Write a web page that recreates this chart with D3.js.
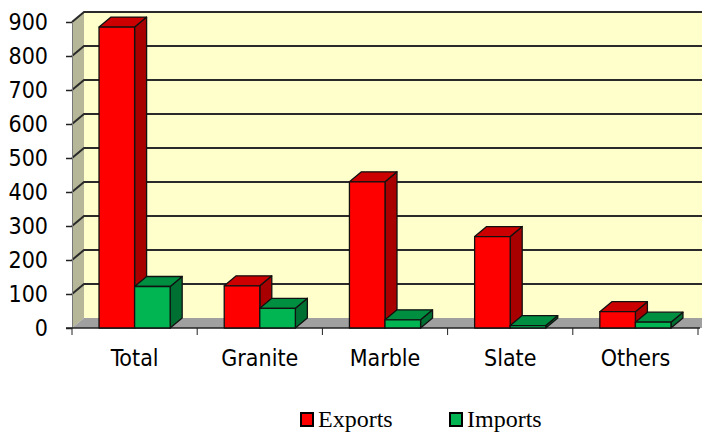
<!DOCTYPE html>
<html>
<head>
<meta charset="utf-8">
<script src="https://cdn.jsdelivr.net/npm/d3@7"></script>
<style>
  html, body { margin: 0; padding: 0; background: #ffffff; }
  svg { display: block; }
</style>
</head>
<body>
<svg id="chart" width="702" height="432"></svg>
<script>
// Stone trade by product type
const categories = ["Total", "Granite", "Marble", "Slate", "Others"];
const exportsValues = [885, 124, 430, 269, 48];
const importsValues = [122, 58, 24, 7, 17];
const seriesNames = ["Exports", "Imports"];
const yTicks = [0, 100, 200, 300, 400, 500, 600, 700, 800, 900];

const svg = d3.select("#chart");

// Front plane geometry and 3-D depth offset
const plotLeft = 72, plotRight = 698, plotBase = 328, plotTop = 22;
const dx = 12, dy = -10;

const x = d3.scaleBand().domain(categories).range([plotLeft, plotRight]).paddingInner(0).paddingOuter(0);
const xs = d3.scaleBand().domain(seriesNames).range([0, x.bandwidth()]).paddingInner(0).paddingOuter(0.76);
const y = d3.scaleLinear().domain([0, 900]).range([plotBase, plotTop]);

const poly = pts => "M" + pts.map(p => p.join(",")).join("L") + "Z";

// Back wall
svg.append("path")
  .attr("d", poly([[plotLeft + dx, y(900) + dy], [710, y(900) + dy], [710, plotBase + dy], [plotLeft + dx, plotBase + dy]]))
  .attr("fill", "#ffffcc");

// Left side wall
svg.append("path")
  .attr("d", poly([[plotLeft, y(900)], [plotLeft + dx, y(900) + dy], [plotLeft + dx, plotBase + dy], [plotLeft, plotBase]]))
  .attr("fill", "#b6b698");

// Floor
svg.append("path")
  .attr("d", poly([[plotLeft, plotBase], [plotLeft + dx, plotBase + dy], [710, plotBase + dy], [710, plotBase]]))
  .attr("fill", "#a0a0a0");

// Gridlines: across the back wall and diagonally over the side wall
const grid = svg.append("g").attr("stroke", "#2a2a2a").attr("stroke-width", 2).attr("fill", "none");
yTicks.filter(v => v > 0).forEach(v => {
  grid.append("path")
    .attr("d", `M${plotLeft},${y(v)}L${plotLeft + dx},${y(v) + dy}L710,${y(v) + dy}`);
});

// Value axis ticks and labels
const yAxis = d3.axisLeft(y).tickValues(yTicks).tickSize(6).tickPadding(18).tickSizeOuter(0);
const gy = svg.append("g").attr("transform", `translate(${plotLeft},0)`).call(yAxis);
gy.select(".domain").attr("stroke", "#777").attr("stroke-width", 1);
gy.selectAll(".tick line").attr("stroke", "#222").attr("stroke-width", 1.5);
gy.selectAll(".tick text")
  .attr("fill", "#000")
  .style("font-family", "'DejaVu Sans Condensed', 'DejaVu Sans', sans-serif")
  .style("font-size", "23px");

// Category axis along the front edge of the floor
const xAxis = d3.axisBottom(x).tickSize(0).tickPadding(22);
const gx = svg.append("g").attr("transform", `translate(0,${plotBase})`).call(xAxis);
gx.select(".domain").remove();
gx.selectAll(".tick text")
  .attr("fill", "#000")
  .style("font-family", "'DejaVu Sans Condensed', 'DejaVu Sans', sans-serif")
  .style("font-size", "23px");
svg.append("line")
  .attr("x1", plotLeft - 6).attr("x2", plotRight + 2).attr("y1", plotBase).attr("y2", plotBase)
  .attr("stroke", "#222").attr("stroke-width", 1.5);
const boundaries = categories.map(c => x(c)).concat([plotRight]);
svg.append("g").selectAll("line").data(boundaries).join("line")
  .attr("x1", d => d).attr("x2", d => d)
  .attr("y1", plotBase).attr("y2", plotBase + 7)
  .attr("stroke", "#222").attr("stroke-width", 1);

// 3-D columns
const palette = {
  Exports: { front: "#ff0000", top: "#cc0000", side: "#a80000" },
  Imports: { front: "#00b552", top: "#008f40", side: "#006f32" }
};
const rows = [];
categories.forEach((c, i) => {
  rows.push({ cat: c, series: "Exports", value: exportsValues[i] });
  rows.push({ cat: c, series: "Imports", value: importsValues[i] });
});

const bars = svg.append("g").selectAll("g").data(rows).join("g")
  .attr("stroke", "#111").attr("stroke-width", 1.3).attr("stroke-linejoin", "round");

bars.each(function (d) {
  const g = d3.select(this);
  const x0 = x(d.cat) + xs(d.series);
  const x1 = x0 + xs.bandwidth();
  const y0 = y(d.value);
  const col = palette[d.series];
  g.append("path")
    .attr("d", poly([[x1, y0], [x1 + dx, y0 + dy], [x1 + dx, plotBase + dy], [x1, plotBase]]))
    .attr("fill", col.side);
  g.append("path")
    .attr("d", poly([[x0, y0], [x0 + dx, y0 + dy], [x1 + dx, y0 + dy], [x1, y0]]))
    .attr("fill", col.top);
  g.append("path")
    .attr("d", poly([[x0, y0], [x1, y0], [x1, plotBase], [x0, plotBase]]))
    .attr("fill", col.front);
});

// Legend
const legendItems = [
  { name: "Exports", color: palette.Exports.front, x: 301 },
  { name: "Imports", color: palette.Imports.front, x: 450 }
];
const legend = svg.append("g").selectAll("g").data(legendItems).join("g")
  .attr("transform", d => `translate(${d.x},413)`);
legend.append("rect")
  .attr("width", 12).attr("height", 13)
  .attr("fill", d => d.color)
  .attr("stroke", "#000").attr("stroke-width", 2);
legend.append("text")
  .attr("x", 17).attr("y", 14)
  .text(d => d.name)
  .attr("fill", "#000")
  .style("font-family", "'Liberation Serif', 'Times New Roman', serif")
  .style("font-size", "24px");
</script>
</body>
</html>
